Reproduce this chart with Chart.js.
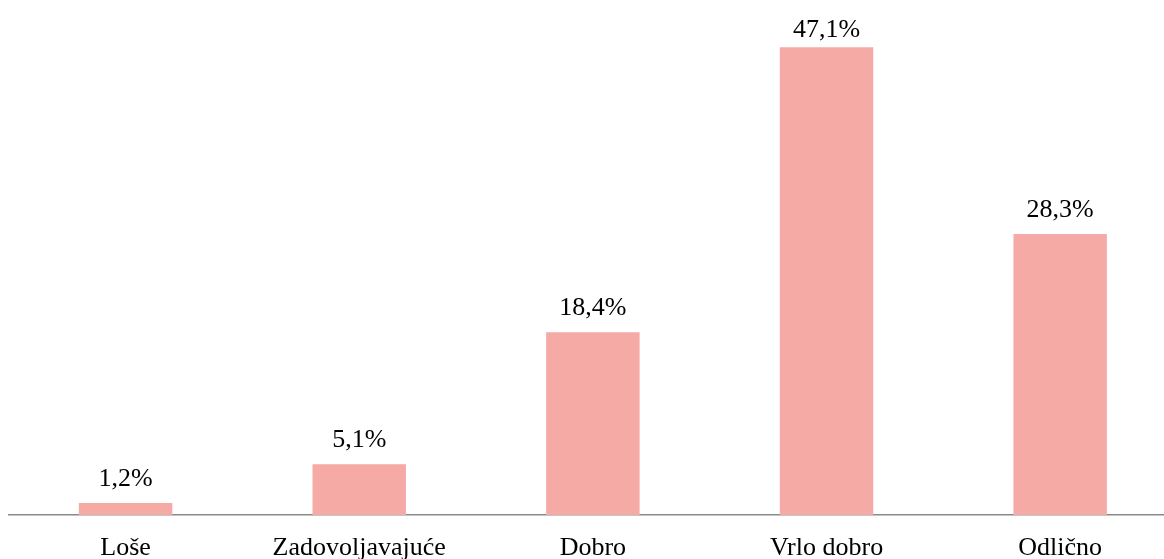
<!DOCTYPE html>
<html>
<head>
<meta charset="utf-8">
<script src="https://cdn.jsdelivr.net/npm/chart.js@4.4.0/dist/chart.umd.min.js"></script>
<style>
  html, body { margin: 0; padding: 0; background: #fff; overflow: hidden; }
  #wrap { width: 1177px; height: 559px; }
</style>
</head>
<body>
<div id="wrap"><canvas id="chart" width="1177" height="559"></canvas></div>
<script>
// Ocjene (udio odgovora, %)
const CATEGORIES = ['Loše', 'Zadovoljavajuće', 'Dobro', 'Vrlo dobro', 'Odlično'];
const VALUES     = [1.2, 5.1, 18.4, 47.1, 28.3];

const BAR_COLOR = '#F5AAA6';
const FONT = "'Liberation Serif', 'Times New Roman', serif";

// draws the "47,1%" labels above bars (kept inside the canvas at the top)
const valueLabels = {
  id: 'valueLabels',
  afterDatasetsDraw(chart) {
    const ctx = chart.ctx;
    const meta = chart.getDatasetMeta(0);
    ctx.save();
    ctx.font = '26px ' + FONT;
    ctx.fillStyle = '#000';
    ctx.textAlign = 'center';
    ctx.textBaseline = 'alphabetic';
    meta.data.forEach((bar, i) => {
      const txt = VALUES[i].toFixed(1).replace('.', ',') + '%';
      ctx.fillText(txt, bar.x, Math.max(37, bar.y - 17));
    });
    ctx.restore();
  }
};

new Chart(document.getElementById('chart'), {
  type: 'bar',
  data: {
    labels: CATEGORIES,
    datasets: [{
      data: VALUES,
      backgroundColor: BAR_COLOR,
      barPercentage: 0.4,
      categoryPercentage: 1,
    }],
  },
  options: {
    responsive: false,
    animation: false,
    layout: { padding: { left: 8.75, top: 18.5, right: 0, bottom: 0 } },
    plugins: { legend: { display: false }, tooltip: { enabled: false } },
    scales: {
      y: { display: false, min: 0, max: 50 },
      x: {
        grid: { display: false },
        border: { display: true, color: '#8a8a8a', width: 1.5 },
        ticks: { color: '#000', font: { family: FONT, size: 26 }, padding: 10, maxRotation: 0 },
        afterFit(scale) { scale.height = 44; },
      },
    },
  },
  plugins: [valueLabels],
});
</script>
</body>
</html>
